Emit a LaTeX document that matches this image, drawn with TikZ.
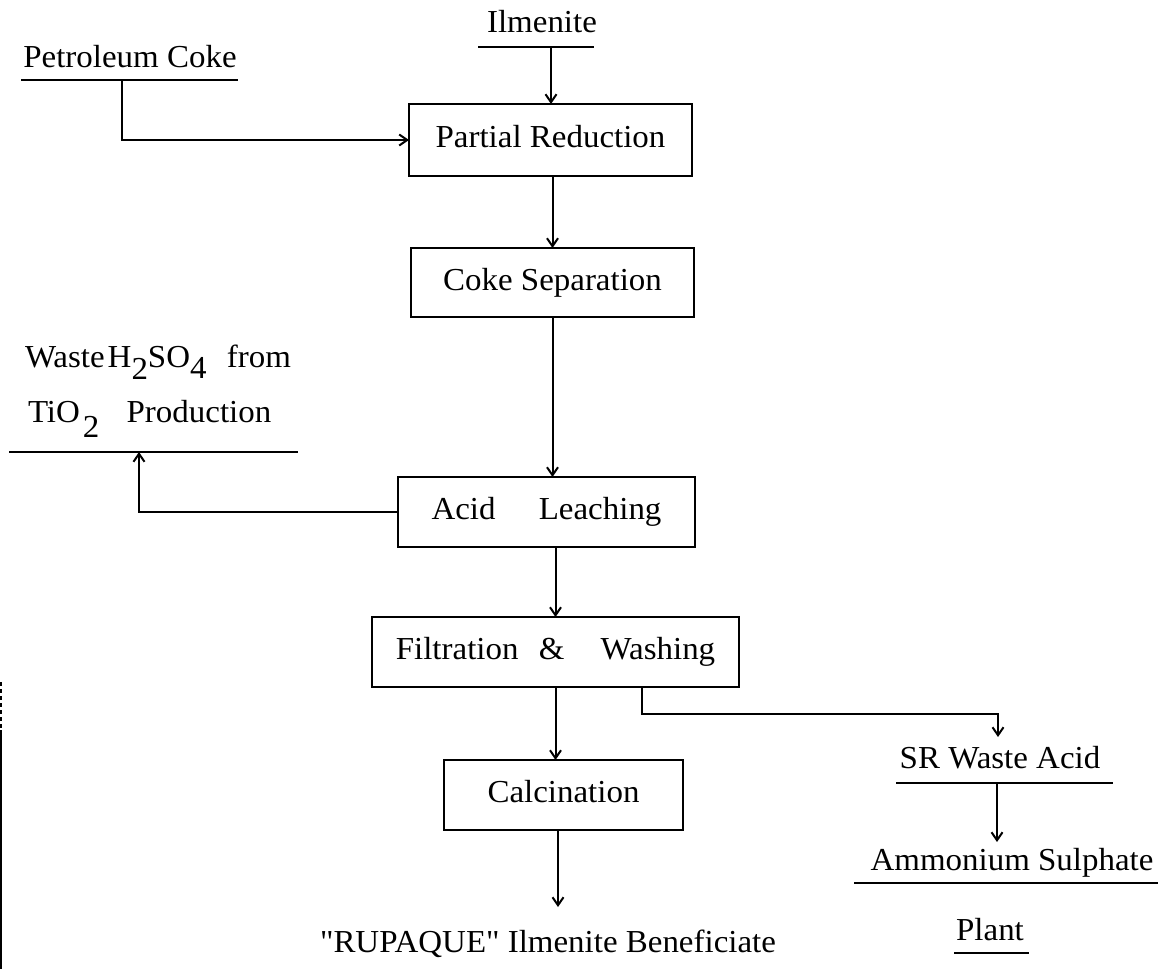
\documentclass[tikz,border=0pt]{standalone}
\usepackage{fontspec}
\setmainfont{Liberation Serif}[FakeStretch=1.03, Ligatures=TeXOff]
\usetikzlibrary{arrows.meta}
\begin{document}
\begin{tikzpicture}[x=1pt,y=-1pt,
  every node/.style={font=\fontsize{32}{38}\selectfont, inner sep=0pt, outer sep=0pt},
  proc/.style={draw, line width=2.5pt, text height=22pt, text depth=6.5pt},
  lbl/.style={anchor=base},
  conn/.style={line width=2pt},
  arr/.style={conn, -{Straight Barb[length=8pt,width=11pt]}},
  uline/.style={line width=2.5pt}]
\useasboundingbox (0,0) rectangle (1166,969);

% process boxes
\node[proc, minimum width=283pt, minimum height=72pt] (pr) at (550.5,140) {Partial Reduction};
\node[proc, minimum width=283pt, minimum height=69pt] (cs) at (552.5,282.5) {Coke Separation};
\node[proc, minimum width=297pt, minimum height=70pt] (al) at (546.5,512) {Acid\hspace{35pt} Leaching};
\node[proc, minimum width=367pt, minimum height=70pt] (fw) at (555.5,652) {Filtration\hspace{12pt} \&\hspace{28pt} Washing};
\node[proc, minimum width=239pt, minimum height=70pt] (cal) at (563.5,795) {Calcination};

% labels
\node[lbl] (ilm) at (542,32) {Ilmenite};
\node[lbl] (pc) at (130,67) {Petroleum Coke};
\node[lbl, anchor=base west] (w1) at (25,367) {Waste\hspace{3pt}H\raisebox{-12pt}{2}SO\raisebox{-11pt}{4}\hspace{12pt} from};
\node[lbl, anchor=base west] (w2) at (28,422) {TiO\hspace{3pt}\raisebox{-15pt}{2}\hspace{19pt} Production};
\node[lbl] (sr) at (1000,768) {SR Waste Acid};
\node[lbl] (am) at (1012,870) {Ammonium Sulphate};
\node[lbl] (pl) at (990,940) {Plant};
\node[lbl] (rup) at (548,952) {"RUPAQUE" Ilmenite Beneficiate};

% underlines
\draw[uline] (478,47) -- (594,47);
\draw[uline] (21,80) -- (238,80);
\draw[uline] (9,452) -- (298,452);
\draw[uline] (896,783) -- (1113,783);
\draw[uline] (854,883) -- (1158,883);
\draw[uline] (954,953) -- (1029,953);

% connectors
\coordinate (ilmA) at (551,47);
\draw[arr] (ilmA) -- (ilmA |- pr.north);
\coordinate (pcA) at (122,80);
\draw[arr] (pcA) |- (pr.west);
\draw[arr] (cs.north |- pr.south) -- (cs.north);
\draw[arr] (cs.south) -- (cs.south |- al.north);
\coordinate (wA) at (139,452);
\draw[arr] (al.west) -| (wA);
\draw[arr] (fw.north |- al.south) -- (fw.north);
\draw[arr] (fw.south) -- (fw.south |- cal.north);
\coordinate (srA) at (998,737);
\draw[arr] ([xshift=86.5pt]fw.south) -- ++(0,27) -| (srA);
\coordinate (srB) at (997,783);
\coordinate (amA) at (997,842);
\draw[arr] (srB) -- (amA);
\coordinate (rupA) at (558,907);
\draw[arr] (cal.south -| rupA) -- (rupA);

% scan edge line at left
\draw[line width=2pt] (1,730) -- (1,969);
\draw[line width=2pt, dash pattern=on 4pt off 3pt] (1,682) -- (1,730);
\end{tikzpicture}
\end{document}
